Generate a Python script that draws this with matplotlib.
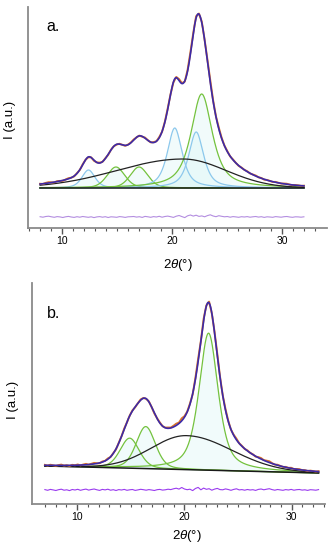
import numpy as np
import matplotlib
matplotlib.use('Agg')
import matplotlib.pyplot as plt

plt.rcParams['font.family'] = ['Liberation Sans', 'DejaVu Sans']
plt.rcParams['mathtext.fontset'] = 'custom'
plt.rcParams['mathtext.it'] = 'Liberation Sans:italic'
plt.rcParams['mathtext.rm'] = 'Liberation Sans'

# ---- panel a: fitted peak components (centre, height, HWHM, lorentz fraction)
a_centres = [12.4, 14.9, 17.0, 20.25, 22.2, 22.7]
a_heights = [18, 21, 21, 60, 56, 94]
a_hwhm    = [0.7, 0.95, 0.95, 0.8, 0.8, 1.15]
a_eta     = [0.5, 0.3, 0.3, 0.7, 0.7, 0.75]
a_kinds   = ['blue', 'green', 'green', 'blue', 'blue', 'green']
# broad amorphous halo: centre, height, sigma left, sigma right
a_halo = [21.0, 29, 6.0, 3.9]
a_base = [40, 40]          # baseline level at start/end
a_range = [8.0, 32.0]
a_res_offset = 11

# ---- panel b
b_centres = [14.9, 16.4, 22.25]
b_heights = [30, 42, 137]
b_hwhm    = [1.05, 1.05, 1.05]
b_eta     = [0.3, 0.3, 0.6]
b_kinds   = ['green', 'green', 'green']
b_halo = [20.2, 34, 3.3, 4.2]
b_base = [38, 31]
b_range = [7.0, 32.5]
b_res_offset = 14

# residuals (data - fit), read at 0.25 deg steps
a_res = [0.3, -0.2, 0.5, 0.8, 0.2, -0.3, 0.4, 0.1, -0.5, 0.2, 0.6, 0.0, -0.4, 0.3, -0.2, 0.5, 0.1,
         -0.3, 0.2, -0.6, 0.1, 0.4, -0.2, 0.3, -0.5, 0.2, 0.0, -0.3, 0.4, 0.1, -0.4, 0.2, 0.3,
         0.5, -0.1, 0.3, -0.4, 0.6, 0.2, -0.3, 0.4, 0.0, 0.7, -0.2, 0.5, 0.9, 0.3, -0.4,
         0.8, 1.5, 0.4, -0.6, 1.2, 2.0, 0.9, 1.8, 0.6, 1.1, 0.2, 1.4, 2.2, 1.0, 0.3,
         1.3, 0.7, 0.2, 0.5, -0.2, 0.4, 0.1, -0.3, 0.3, 0.0, 0.4, -0.2, 0.2, 0.5, -0.1,
         0.3, -0.4, 0.2, 0.0, -0.3, 0.4, 0.1, -0.2, 0.3, 0.5, 0.0, -0.3, 0.2, 0.1, -0.2, 0.2]
b_res = [0.4, -0.3, 0.6, 0.1, -0.5, 0.3, 0.8, -0.2, 0.2, -0.6, 0.5, 0.0, 0.7, -0.3, 0.4, 0.9,
         -0.1, 0.5, 1.0, 0.2, -0.4, 0.6, 0.1, 0.8, -0.2, 0.3, -0.5, 0.4, 0.0, 0.6, -0.3, 0.2,
         0.5, -0.4, 0.1, 0.7, 0.3, -0.2, 0.4, 0.0, -0.5, 0.3, 0.6, -0.1, 0.2, 0.8, 0.4, 1.2,
         1.8, 0.9, 2.5, 1.0, 0.3, 0.8, -0.6, 1.5, 2.6, 0.2, 1.9, 0.7, 1.3, -0.2, 0.9, 1.6,
         0.4, 0.2, 1.1, 0.5, -0.3, 0.6, 1.2, 0.1, 0.4, -0.2, 0.5, 0.0, 0.3, -0.4, 0.6, 1.0,
         0.2, 0.8, 1.3, 0.4, -0.2, 0.5, 0.1, -0.3, 0.4, 0.0, 0.6, -0.2, 0.3, 0.5, -0.1, 0.2,
         -0.4, 0.3, 0.1, -0.2, 0.4]

colors = {'blue': '#8cc8ec', 'green': '#74c23e'}


def pv(x, c, h, w, eta):
    g = np.exp(-np.log(2) * (x - c) ** 2 / w ** 2)
    l = 1 / (1 + ((x - c) / w) ** 2)
    return h * (eta * l + (1 - eta) * g)


def halo(x, p):
    c, h, sl, sr = p
    s = np.where(x < c, sl, sr)
    return h * np.exp(-(x - c) ** 2 / (2 * s ** 2))


def draw(ax, centres, heights, hwhm, eta, kinds, hp, base, rng, res, res_off, res_color):
    x = np.linspace(rng[0], rng[1], 800)
    bl = np.interp(x, rng, base)
    total = bl + halo(x, hp)
    for c, h, w, e, k in zip(centres, heights, hwhm, eta, kinds):
        y = pv(x, c, h, w, e)
        total = total + y
        ax.fill_between(x, bl, bl + y, color='#d8f6f6', alpha=0.35, lw=0)
        ax.plot(x, bl + y, color=colors[k], lw=0.9)
    ax.plot(x, bl + halo(x, hp), color='#222222', lw=0.9)
    ax.plot(x, bl, color='#1a1a1a', lw=1.1)
    # experimental data = fit + residual
    xr = np.linspace(rng[0], rng[1], len(res))
    fit_r = np.interp(xr, x, total)
    ax.plot(xr, fit_r + np.array(res), color='#d9742a', lw=1.4)
    ax.plot(x, total, color='#3c2aa8', lw=1.2)
    ax.plot(xr, res_off + np.array(res), color=res_color, lw=0.8)


fig = plt.figure(figsize=(3.31, 5.5), dpi=100)
ax1 = fig.add_axes([28 / 331, 1 - 228 / 550, 299 / 331, 221 / 550])
ax2 = fig.add_axes([32 / 331, 1 - 504 / 550, 293 / 331, 221 / 550])

draw(ax1, a_centres, a_heights, a_hwhm, a_eta, a_kinds, a_halo, a_base, a_range,
     a_res, a_res_offset, '#b38de0')
draw(ax2, b_centres, b_heights, b_hwhm, b_eta, b_kinds, b_halo, b_base, b_range,
     b_res, b_res_offset, '#9a3bef')

ax1.set_xlim(6.9, 34.1)
ax2.set_xlim(5.8, 33.1)
for ax, lab in [(ax1, 'a.'), (ax2, 'b.')]:
    ax.set_ylim(0, 221)
    ax.spines['top'].set_visible(False)
    ax.spines['right'].set_visible(False)
    ax.spines['left'].set_color('#8a8a8a')
    ax.spines['bottom'].set_color('#8a8a8a')
    ax.spines['left'].set_linewidth(1.3)
    ax.spines['bottom'].set_linewidth(1.3)
    ax.set_yticks([])
    ax.set_xticks([10, 20, 30])
    ax.set_xticks(np.arange(7, 34, 1), minor=True)
    ax.tick_params(axis='x', which='major', length=4, width=1, color='#555555',
                   labelsize=7.5, pad=2)
    ax.tick_params(axis='x', which='minor', length=2.5, width=0.8, color='#555555')
    ax.set_ylabel('I (a.u.)', fontsize=9.5)
    ax.set_xlabel(r'2$\theta$(°)', fontsize=9.5)

ax1.text(0.06, 0.91, 'a.', transform=ax1.transAxes, fontsize=11.5, va='center')
ax2.text(0.05, 0.86, 'b.', transform=ax2.transAxes, fontsize=11.5, va='center')
ax1.yaxis.set_label_coords(-0.04, 0.49)
ax2.yaxis.set_label_coords(-0.044, 0.47)
ax1.xaxis.set_label_coords(0.5, -0.13)
ax2.xaxis.set_label_coords(0.53, -0.11)

fig.savefig('out.png', dpi=100)
